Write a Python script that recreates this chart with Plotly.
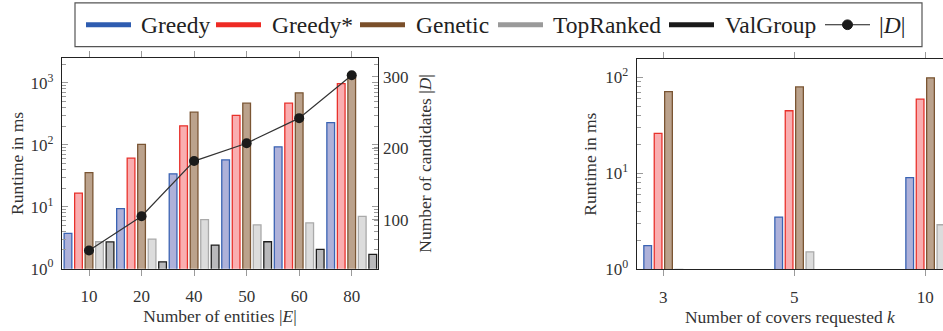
import plotly.graph_objects as go

# ---------------- data ----------------
entities = ["10", "20", "40", "50", "60", "80"]
greedy_e = [3.7, 9.3, 34, 57, 93, 229]
greedystar_e = [16.6, 61, 203, 299, 472, 973]
genetic_e = [35.5, 102, 337, 472, 693, 1300]
topranked_e = [2.72, 3.0, 6.2, 5.1, 5.5, 6.97]
valgroup_e = [2.7, 1.29, 2.4, 2.72, 2.04, 1.70]
candidates = [57, 105, 182, 207, 242, 302]

covers = ["3", "5", "10"]
greedy_k = [1.76, 3.5, 9.0]
greedystar_k = [26, 44.7, 59]
genetic_k = [70.6, 79, 98.4]
topranked_k = [1.0, 1.52, 2.91]

# ---------------- styles ----------------
names = ["Greedy", "Greedy*", "Genetic", "TopRanked", "ValGroup"]
legend_col = ["#2e5cb0", "#ee2b24", "#7a4f2a", "#9a9a9a", "#1a1a1a"]
fill_col = ["#aeb1d9", "#f9aeb0", "#bba28c", "#dcdcdc", "#b9b9bb"]
edge_col = ["#3a63b3", "#e8312b", "#7a5533", "#aaaaaa", "#1e1e1e"]

FONT = "'Liberation Serif', 'Times New Roman', 'DejaVu Serif', serif"
TICKC = "#9a9a9a"
AXC = "#222222"
TXT = "#333333"
W, H = 943, 331

fig = go.Figure()

# left chart bars
left_series = [greedy_e, greedystar_e, genetic_e, topranked_e, valgroup_e]
slotL = 0.2
wL = 0.147
for i, vals in enumerate(left_series):
    fig.add_trace(go.Bar(
        x=entities, y=vals, xaxis="x", yaxis="y", name=names[i],
        width=wL, offset=-0.5 + i * slotL + (slotL - wL) / 2,
        marker=dict(color=fill_col[i], line=dict(color=edge_col[i], width=1.3)),
        showlegend=False,
    ))

# |D| line on secondary axis
fig.add_trace(go.Scatter(
    x=entities, y=candidates, xaxis="x", yaxis="y2", name="|D|",
    mode="lines+markers", line=dict(color="#333333", width=1.2),
    marker=dict(color="#1a1a1a", size=10), showlegend=False,
))

# right chart bars
right_series = [greedy_k, greedystar_k, genetic_k, topranked_k]
slotR = 0.0794
wR = 0.0588
for i, vals in enumerate(right_series):
    fig.add_trace(go.Bar(
        x=covers, y=vals, xaxis="x3", yaxis="y3", name=names[i],
        width=wR, offset=-2 * slotR + i * slotR + (slotR - wR) / 2,
        marker=dict(color=fill_col[i], line=dict(color=edge_col[i], width=1.3)),
        showlegend=False,
    ))

tickfont = dict(family=FONT, size=17, color=TXT)
titlefont = dict(family=FONT, size=17.5, color=TXT)

logticks = dict(
    type="log", tickvals=[1, 10, 100, 1000],
    ticktext=["10<sup>0</sup>", "10<sup>1</sup>", "10<sup>2</sup>", "10<sup>3</sup>"],
    ticks="inside", ticklen=6, tickcolor=TICKC, tickwidth=1,
    minor=dict(ticks="inside", ticklen=4, tickcolor=TICKC, dtick="D1", showgrid=False),
    showgrid=False, zeroline=False, showline=True, linecolor=AXC, linewidth=1.2,
    tickfont=tickfont, ticklabelstandoff=4,
)

# ---------------- custom legend (box, line swatches, labels) ----------------
def px(x):
    return x / W


def py(y):
    return 1 - y / H


shapes = [dict(type="rect", xref="paper", yref="paper",
               x0=px(75), x1=px(922), y0=py(48), y1=py(3),
               line=dict(color="#555555", width=1.2), fillcolor="white", layer="above")]
annotations = []
sw_x = [86, 216, 360, 498, 669]
tx_x = [139, 270, 414, 551, 723]
LY = 25.5
for i, n in enumerate(names):
    shapes.append(dict(type="line", xref="paper", yref="paper",
                       x0=px(sw_x[i]), x1=px(sw_x[i] + 45), y0=py(LY), y1=py(LY),
                       line=dict(color=legend_col[i], width=5)))
    annotations.append(dict(text=n, xref="paper", yref="paper", x=px(tx_x[i]), y=py(LY),
                            xanchor="left", yanchor="middle", showarrow=False,
                            font=dict(family=FONT, size=23.5, color="#222")))
shapes.append(dict(type="line", xref="paper", yref="paper",
                   x0=px(825), x1=px(870), y0=py(LY), y1=py(LY),
                   line=dict(color="#1a1a1a", width=1.2)))
shapes.append(dict(type="circle", xref="paper", yref="paper",
                   x0=px(842.5), x1=px(852.5), y0=py(LY + 5), y1=py(LY - 5),
                   line=dict(color="#1a1a1a", width=1), fillcolor="#1a1a1a"))
annotations.append(dict(text="|<i>D</i>|", xref="paper", yref="paper", x=px(877), y=py(LY),
                        xanchor="left", yanchor="middle", showarrow=False,
                        font=dict(family=FONT, size=23.5, color="#222")))

fig.update_layout(
    width=W, height=H,
    margin=dict(l=0, r=0, t=0, b=0),
    paper_bgcolor="white", plot_bgcolor="white",
    barmode="overlay", showlegend=False,
    font=dict(family=FONT, color=TXT),
    shapes=shapes, annotations=annotations,
    xaxis=dict(
        domain=[62 / W, 378 / W], anchor="y", type="category",
        range=[-0.514, 5.5], ticks="outside", ticklen=6, tickcolor=TICKC,
        showline=True, linecolor=AXC, linewidth=1.2, mirror="allticks",
        showgrid=False, tickfont=tickfont, ticklabelstandoff=6,
        title=dict(text="Number of entities |<i>E</i>|", font=titlefont, standoff=3),
    ),
    yaxis=dict(
        domain=[(H - 277) / H, (H - 60) / H], anchor="x",
        range=[0, 3.40], mirror="allticks",
        title=dict(text="Runtime in ms", font=titlefont, standoff=2),
        **logticks,
    ),
    yaxis2=dict(
        overlaying="y", side="right", anchor="x", range=[31.7, 325.8],
        tickvals=[100, 200, 300], ticks="inside", ticklen=6, tickcolor=TICKC,
        showgrid=False, zeroline=False, showline=False,
        tickfont=tickfont, ticklabelstandoff=4,
        title=dict(text="Number of candidates |<i>D</i>|", font=titlefont, standoff=11),
    ),
    xaxis3=dict(
        domain=[636.7 / W, 1.0], anchor="y3", type="category",
        range=[-0.203, 2.135], ticks="outside", ticklen=6, tickcolor=TICKC,
        showline=True, linecolor=AXC, linewidth=1.2, mirror="allticks",
        showgrid=False, tickfont=tickfont, ticklabelstandoff=6,
        title=dict(text="Number of covers requested <i>k</i>", font=titlefont, standoff=3),
    ),
    yaxis3=dict(
        domain=[(H - 277.7) / H, (H - 60.7) / H], anchor="x3",
        range=[0, 2.19], mirror=False,
        title=dict(text="Runtime in ms", font=titlefont, standoff=4),
        **logticks,
    ),
)

fig.write_html("out.html", config={"displayModeBar": False},
               post_script="document.body.style.margin='0';")
